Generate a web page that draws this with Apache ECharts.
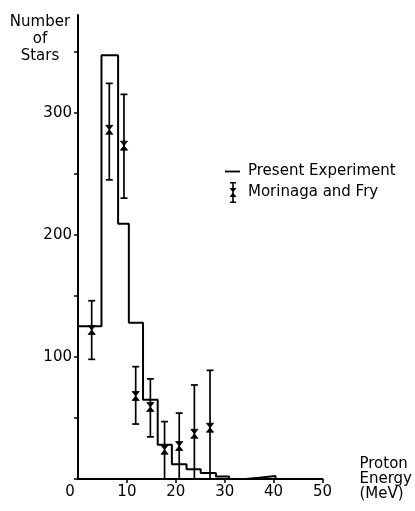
<!DOCTYPE html>
<html><head><meta charset="utf-8">
<script src="https://cdn.jsdelivr.net/npm/echarts@6/dist/echarts.min.js"></script>
<style>html,body{margin:0;padding:0;background:#fff}#c{width:415px;height:511px}</style>
</head><body><div id="c"></div>
<script>
// Histogram: Present Experiment (bin edges in MeV, counts per bin)
const histEdges  = [0, 4.8, 8.2, 10.4, 13.3, 16.3, 19.2, 22.2, 25.1, 28.2, 30.9, 34.3, 37.0, 40.4];
const histCounts = [125, 347, 209, 128, 65, 28, 12, 8, 5, 2, 0, 1, 2.5];

// Morinaga and Fry points with error bars
const mfEnergy = [2.8, 6.4, 9.4, 11.8, 14.8, 17.7, 20.7, 23.8, 27.0];
const mfValue  = [122, 286, 273, 68, 59, 24, 27, 37, 42];
const mfLow    = [98, 245, 230, 45, 34.5, 0, 0, 0, 0];
const mfHigh   = [146, 324, 315, 92, 82, 47, 54, 77, 89];

const xTickValues = [0, 10, 20, 30, 40, 50];
const yTickValues = [0, 50, 100, 150, 200, 250, 300, 350];
const yLabelValues = [100, 200, 300];

const FONT = 'DejaVu Sans';

// outline of the histogram built from the bins
const stepData = [[histEdges[0], 0]];
for (let i = 0; i < histCounts.length; i++) {
  stepData.push([histEdges[i], histCounts[i]]);
  stepData.push([histEdges[i + 1], histCounts[i]]);
}
stepData.push([histEdges[histEdges.length - 1], 0]);

const mfData = mfEnergy.map((e, i) => [e, mfValue[i], mfLow[i], mfHigh[i]]);

const chart = echarts.init(document.getElementById('c'), null, {renderer: 'canvas'});
chart.setOption({
  animation: false,
  backgroundColor: '#fff',
  grid: {left: 78, right: 91, top: 15, bottom: 32},
  graphic: [{
    type: 'text', x: 40, y: 14,
    style: {text: 'Number\nof\nStars', align: 'center', verticalAlign: 'top',
            font: '15px "' + FONT + '"', lineHeight: 17, fill: '#000'}
  }],
  legend: {
    orient: 'vertical', left: 225, top: 161, padding: 0,
    itemWidth: 16, itemHeight: 21, itemGap: 0,
    textStyle: {fontFamily: FONT, fontSize: 15, color: '#000', padding: [0, 0, 0, 2]},
    data: [
      {name: 'Present Experiment',
       icon: 'path://M0,0M16,21M0,9.6H15V11.4H0Z'},
      {name: 'Morinaga and Fry',
       icon: 'path://M0,0M16,21M5,0H11V1.6H5ZM7.2,0H8.8V21H7.2ZM5,19.4H11V21H5ZM4.5,6H11.5L8,10.5L11.5,15H4.5L8,10.5Z'}
    ]
  },
  xAxis: {
    type: 'value', min: 0, max: 50, interval: 10,
    name: 'Proton\nEnergy\n(MeV)', nameLocation: 'end', nameGap: 37,
    nameTextStyle: {fontFamily: FONT, fontSize: 15, color: '#000', align: 'left',
                    verticalAlign: 'middle', lineHeight: 15, padding: [13, 0, 0, 0]},
    axisLine: {show: true, lineStyle: {color: '#000', width: 2}},
    axisTick: {show: true, length: 4, lineStyle: {color: '#000', width: 1.5}, customValues: xTickValues.slice(1)},
    axisLabel: {
      customValues: xTickValues, margin: 6, color: '#000', fontFamily: FONT, fontSize: 15,
      formatter: v => v === 0 ? '{z|0}' : String(v),
      rich: {z: {fontFamily: FONT, fontSize: 15, color: '#000', padding: [0, 16, 0, 0]}}
    },
    splitLine: {show: false}
  },
  yAxis: {
    type: 'value', min: 0, max: 380, interval: 50,
    axisLine: {show: true, lineStyle: {color: '#000', width: 2}},
    axisTick: {show: true, length: 4, lineStyle: {color: '#000', width: 1.5}, customValues: yTickValues},
    axisLabel: {customValues: yLabelValues, margin: 6, color: '#000', fontFamily: FONT, fontSize: 15},
    splitLine: {show: false}
  },
  series: [
    {
      name: 'Present Experiment', type: 'line', data: stepData,
      symbol: 'none', showSymbol: false, color: '#000',
      lineStyle: {color: '#000', width: 2}, z: 3
    },
    {
      name: 'Morinaga and Fry', type: 'custom', data: mfData, color: '#000',
      encode: {x: 0, y: 1}, clip: false, z: 4,
      renderItem: function (params, api) {
        const x = api.value(0), v = api.value(1), lo = api.value(2), hi = api.value(3);
        const pc = api.coord([x, v]), pl = api.coord([x, lo]), ph = api.coord([x, hi]);
        const cw = 3.5, mw = 3.6, mh = 4.5;
        const st = {stroke: '#000', lineWidth: 1.7, fill: null};
        return {type: 'group', children: [
          {type: 'line', shape: {x1: pl[0], y1: pl[1], x2: ph[0], y2: ph[1]}, style: st},
          {type: 'line', shape: {x1: ph[0] - cw, y1: ph[1], x2: ph[0] + cw, y2: ph[1]}, style: st},
          {type: 'line', shape: {x1: pl[0] - cw, y1: pl[1], x2: pl[0] + cw, y2: pl[1]}, style: st},
          {type: 'polygon', shape: {points: [
            [pc[0] - mw, pc[1] - mh], [pc[0] + mw, pc[1] - mh], [pc[0], pc[1]],
            [pc[0] + mw, pc[1] + mh], [pc[0] - mw, pc[1] + mh], [pc[0], pc[1]]]},
           style: {fill: '#000', stroke: '#000', lineWidth: 0.8}}
        ]};
      }
    }
  ]
});
</script>
</body></html>
